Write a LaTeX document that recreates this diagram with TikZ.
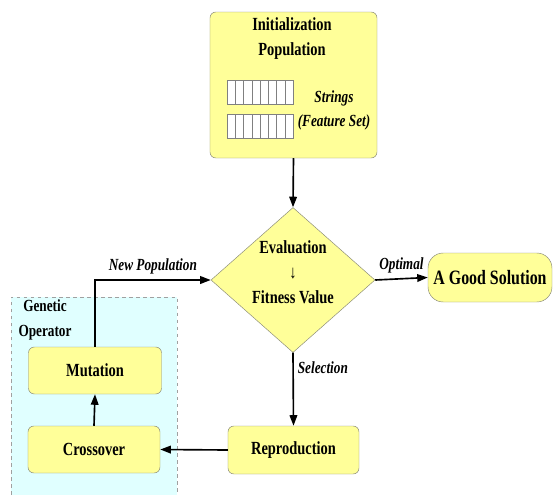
\documentclass[tikz,border=0pt]{standalone}
\usepackage{fontspec}
\setmainfont{Liberation Serif}[FakeStretch=0.78]
\usetikzlibrary{arrows.meta,shapes.geometric}
\definecolor{gaYellow}{HTML}{FFFF99}
\definecolor{gaEdge}{HTML}{8A8A78}
\definecolor{gaCyan}{HTML}{E0FFFF}
\definecolor{gaDash}{HTML}{A0A0A0}

\begin{document}
\begin{tikzpicture}[x=0.03cm, y=-0.03cm,
  stepbox/.style={draw=gaEdge, fill=gaYellow, rounded corners=5pt, inner sep=0pt,
    font=\fontsize{15.8}{18}\selectfont\bfseries},
  lbl/.style={font=\fontsize{14.5}{17}\selectfont\bfseries\itshape},
  flow/.style={line width=1.4pt, -{Triangle[length=9pt,width=6.5pt]}}]
  \useasboundingbox (0,0) rectangle (555,495);
  % genetic operator region
  \fill[gaCyan] (11,297) rectangle (177,495);
  \draw[gaDash, dashed, line width=0.8pt] (11,495) -- (11,297) -- (177,297) -- (177,495);
  \node[font=\fontsize{14.5}{21.3}\selectfont\bfseries, align=center] (gop) at (45,320) {Genetic\\Operator};
  % initial population
  \node[stepbox, minimum width=5.01cm, minimum height=4.38cm] (init) at (293.5,85) {};
  \node[font=\fontsize{15.8}{21.3}\selectfont\bfseries, align=center] (inittext) at (292,39) {Initialization\\Population};
  \foreach \y in {80,114} {
    \draw[gray, fill=white] (227,\y) rectangle (293,\y+24);
    \foreach \i in {1,...,7}
      \draw[gray] (227+8.25*\i,\y) -- (227+8.25*\i,\y+24);
  }
  \node[lbl, align=center, font=\fontsize{14.5}{20.5}\selectfont\bfseries\itshape] (strings) at (334,110) {Strings\\(Feature Set)};
  % evaluation
  \node[diamond, draw=gaEdge, fill=gaYellow, minimum width=4.92cm, minimum height=4.35cm, inner sep=0pt] (eval) at (293,280) {};
  \node[font=\fontsize{15.8}{21.3}\selectfont\bfseries, align=center] (evaltext) at (293,272)
    {Evaluation\\{\mdseries ↓}\\Fitness Value};
  \node[stepbox, rounded corners=13pt, minimum width=3.72cm, minimum height=1.47cm,
    font=\fontsize{17.4}{20}\selectfont\bfseries] (good) at (490,277.5) {A Good Solution};
  % operators
  \node[stepbox, minimum width=3.93cm, minimum height=1.44cm] (repro) at (293.5,450) {Reproduction};
  \node[stepbox, minimum width=3.96cm, minimum height=1.41cm] (cross) at (94,449.5) {Crossover};
  \node[stepbox, minimum width=3.99cm, minimum height=1.41cm] (mut) at (95,370.5) {Mutation};
  % flow
  \draw[flow] (init.south) -- (eval.north);
  \draw[flow] (eval.east) -- node[lbl, above=1pt] {Optimal} (good.west);
  \draw[flow] (eval.south) -- node[lbl, right, pos=0.2] {Selection} (repro.north);
  \draw[flow] (repro.west) -- (cross.east);
  \draw[flow] (cross.north) -- (mut.south);
  \draw[flow] (mut.north) |- node[lbl, above=1pt, pos=0.75] {New Population} (eval.west);
\end{tikzpicture}
\end{document}
